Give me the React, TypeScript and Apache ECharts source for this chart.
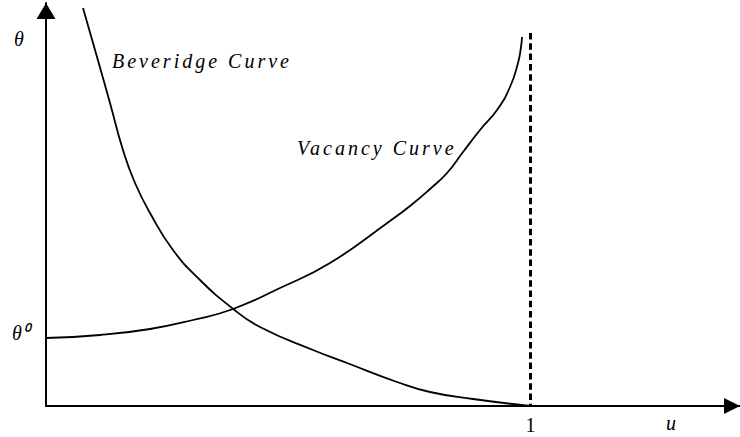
import React, { useEffect, useRef } from "react";
import * as echarts from "echarts";

// Beveridge curve (u, theta)
const beveridgeU = [0.0764, 0.1053, 0.1321, 0.1589, 0.1837, 0.2147, 0.2621, 0.3179, 0.3839, 0.4417, 0.5511, 0.6213, 0.7245, 0.7926, 0.8813, 1.0];
const beveridgeTheta = [3.98, 3.49, 3.03, 2.56, 2.23, 1.93, 1.56, 1.26, 0.98, 0.79, 0.56, 0.43, 0.24, 0.14, 0.07, 0.0];

// Vacancy curve (u, theta)
const vacancyU = [0.0, 0.1115, 0.2147, 0.3034, 0.386, 0.483, 0.5862, 0.71, 0.7513, 0.7926, 0.8277, 0.8607, 0.8958, 0.9309, 0.9577, 0.9742, 0.9804, 0.9825];
const vacancyTheta = [0.68, 0.71, 0.77, 0.86, 0.97, 1.18, 1.43, 1.85, 2.0, 2.17, 2.33, 2.54, 2.76, 2.96, 3.19, 3.43, 3.59, 3.69];

// Vertical limit u = 1
const limitU = 1;
const limitTop = 3.73;

const xMax = 1.4324;
const yMax = 4.03;

const labels = {
  theta: "θ",
  theta0: "θ⁰",
  beveridge: "Beveridge Curve",
  vacancy: "Vacancy Curve",
  u: "u",
  one: "1",
};

const SERIF = "Liberation Serif";

export default function App() {
  const ref = useRef<HTMLDivElement>(null);

  useEffect(() => {
    document.body.style.margin = "0";
    const chart = echarts.init(ref.current!, null, { renderer: "svg" });
    const bev = beveridgeU.map((u, i) => [u, beveridgeTheta[i]]);
    const vac = vacancyU.map((u, i) => [u, vacancyTheta[i]]);
    const txt = (text: string, size: number, align: string) => ({
      text,
      fontFamily: SERIF,
      fontStyle: "italic",
      fontSize: size,
      fill: "#000",
      align,
      verticalAlign: "middle",
    });

    chart.setOption({
      animation: false,
      backgroundColor: "#fff",
      grid: { left: 46, right: 0, top: 3, bottom: 31, containLabel: false, outerBoundsMode: "none" },
      xAxis: {
        type: "value",
        min: 0,
        max: xMax,
        interval: 1,
        splitLine: { show: false },
        axisTick: { show: false },
        axisLine: {
          show: true,
          lineStyle: { color: "#000", width: 2 },
          symbol: ["none", "triangle"],
          symbolSize: [16, 16],
          symbolOffset: [0, -8],
        },
        axisLabel: {
          formatter: (v: number) => (v === limitU ? labels.one : ""),
          color: "#000",
          fontFamily: SERIF,
          fontSize: 20,
          margin: 9,
          showMaxLabel: false,
        },
      },
      yAxis: {
        type: "value",
        min: 0,
        max: yMax,
        splitLine: { show: false },
        axisTick: { show: false },
        axisLabel: { show: false },
        axisLine: {
          show: true,
          lineStyle: { color: "#000", width: 2 },
          symbol: ["none", "triangle"],
          symbolSize: [19, 16],
          symbolOffset: [0, -8],
        },
      },
      series: [
        {
          type: "line",
          name: "Beveridge Curve",
          data: bev,
          symbol: "none",
          smooth: 0.5,
          lineStyle: { color: "#000", width: 1.8 },
          silent: true,
          markLine: {
            silent: true,
            symbol: ["none", "none"],
            label: { show: false },
            lineStyle: { color: "#000", width: 3, type: [6.5, 3.8] },
            data: [[{ coord: [limitU, limitTop] }, { coord: [limitU, 0] }]],
          },
        },
        {
          type: "line",
          name: "Vacancy Curve",
          data: vac,
          symbol: "none",
          smooth: 0.5,
          lineStyle: { color: "#000", width: 1.8 },
          silent: true,
        },
      ],
      graphic: [
        { type: "text", x: 19, y: 38.5, style: txt(labels.theta, 20, "center") },
        { type: "text", x: 12, y: 333, style: txt(labels.theta0, 20, "left") },
        { type: "text", x: 112, y: 61, style: txt(labels.beveridge, 20, "left") },
        { type: "text", x: 297, y: 148, style: txt(labels.vacancy, 20, "left") },
        { type: "text", x: 671, y: 423, style: txt(labels.u, 20, "center") },
      ],
    });

    const spaced = [labels.beveridge, labels.vacancy];
    ref.current!.querySelectorAll("text").forEach((t) => {
      if (spaced.includes(t.textContent || "")) t.setAttribute("letter-spacing", "3px");
    });

    return () => chart.dispose();
  }, []);

  return <div ref={ref} style={{ position: "absolute", left: 0, top: 0, width: 740, height: 437 }} />;
}
